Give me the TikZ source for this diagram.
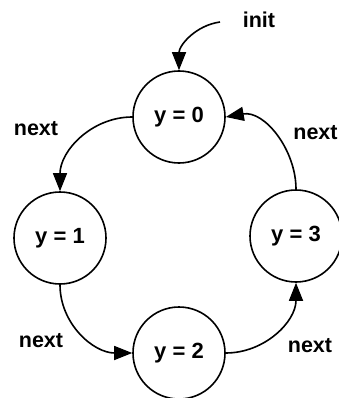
\documentclass[tikz,border=0pt]{standalone}
\usepackage{fontspec}
\setmainfont{Liberation Sans}
\usetikzlibrary{arrows.meta}

\begin{document}
\begin{tikzpicture}[
    x=1pt, y=-1pt,
    stateNode/.style={
        circle, draw=black, line width=1.6pt,
        minimum size=92pt, inner sep=0pt,
        font=\fontsize{22}{26}\selectfont\bfseries
    },
    edgeLabel/.style={
        inner sep=0pt, font=\fontsize{21.5}{26}\selectfont\bfseries
    },
    transArrow/.style={
        -{Triangle[length=18pt, width=14pt]}, line width=1.6pt, draw=black
    }
]
    \useasboundingbox (0,0) rectangle (339,398);

    % States
    \node[stateNode] (s0) at (179,117) {y = 0};
    \node[stateNode] (s1) at (60,238) {y = 1};
    \node[stateNode] (s2) at (179,353) {y = 2};
    \node[stateNode] (s3) at (296,236) {y = 3};

    % Initial arrow
    \coordinate (initStart) at (220,22);
    \node[edgeLabel] (initLbl) at (259,20) {init};
    \draw[transArrow] (initStart) to[out=188, in=90] (s0.north);

    % Transitions
    \draw[transArrow] (s0.west) to[out=180, in=90] (s1.north);
    \draw[transArrow] (s1.south) to[out=-90, in=180] (s2.west);
    \draw[transArrow] (s2.east) to[out=0, in=-90] (s3.south);
    \draw[transArrow] (s3.north) to[out=90, in=10] (s0.east);

    % Labels
    \node[edgeLabel] (lbl01) at (36,129) {next};
    \node[edgeLabel] (lbl12) at (41,341) {next};
    \node[edgeLabel] (lbl23) at (310,346) {next};
    \node[edgeLabel] (lbl30) at (315.5,133) {next};

\end{tikzpicture}
\end{document}
